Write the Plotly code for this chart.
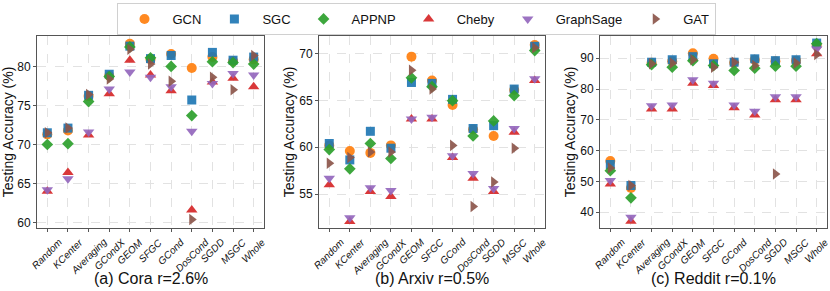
import plotly.graph_objects as go

methods = ["Random", "KCenter", "Averaging", "GCondX", "GEOM", "SFGC", "GCond",
           "DosCond", "SGDD", "MSGC", "Whole"]
models = ["GCN", "SGC", "APPNP", "Cheby", "GraphSage", "GAT"]

# Cora r=2.6%
cora = {
    "GCN":       [71.3, 71.8, 76.2, 78.8, 82.9, 80.9, 81.6, 79.8, 81.2, 80.7, 80.9],
    "SGC":       [71.5, 72.1, 76.3, 79.0, 82.6, 81.0, 81.4, 75.7, 81.8, 80.8, 81.2],
    "APPNP":     [70.0, 70.1, 75.5, 78.7, 82.5, 81.1, 80.0, 73.7, 80.6, 80.5, 80.3],
    "Cheby":     [64.0, 66.4, 71.2, 76.5, 80.8, 78.9, 76.9, 61.6, 78.0, 78.5, 77.4],
    "GraphSage": [64.2, 65.6, 71.6, 77.1, 79.3, 78.6, 77.4, 71.7, 77.8, 79.1, 78.9],
    "GAT":       [71.5, 72.1, 76.4, 78.4, 82.2, 80.3, 78.1, 60.4, 78.6, 77.0, 81.4],
}
# Arxiv r=0.5%
arxiv = {
    "GCN":       [60.2, 59.6, 59.4, 60.2, 69.65, 67.1, 64.5, 61.9, 61.2, 66.1, 70.9],
    "SGC":       [60.4, 58.65, 61.7, 59.9, 66.9, 66.8, 65.1, 62.0, 62.3, 66.2, 70.75],
    "APPNP":     [59.75, 57.7, 60.4, 58.8, 67.4, 66.45, 64.96, 61.2, 62.8, 65.5, 70.3],
    "Cheby":     [56.0, 52.1, 55.3, 54.75, 63.0, 63.0, 58.9, 56.7, 55.3, 61.6, 67.1],
    "GraphSage": [56.7, 52.5, 55.7, 55.4, 63.0, 63.2, 59.1, 57.2, 55.6, 62.0, 67.3],
    "GAT":       [58.3, 58.9, 59.5, 59.5, 68.2, 66.2, 60.2, 53.7, 56.3, 59.9, 70.6],
}
# Reddit r=0.1%
reddit = {
    "GCN":       [56.6, 47.9, 88.5, 89.0, 91.6, 89.8, 88.5, 89.5, 89.0, 89.2, 94.1],
    "SGC":       [55.5, 48.7, 88.7, 89.5, 90.5, 88.2, 88.7, 89.8, 89.2, 89.5, 94.9],
    "APPNP":     [53.5, 44.7, 87.9, 87.1, 89.2, 87.6, 86.0, 86.75, 87.4, 87.4, 94.7],
    "Cheby":     [49.2, 37.1, 73.5, 73.5, 81.9, 81.1, 73.9, 71.6, 76.5, 76.5, 91.4],
    "GraphSage": [50.3, 38.4, 74.6, 74.8, 83.0, 81.9, 74.8, 72.8, 77.5, 77.5, 93.0],
    "GAT":       [54.4, 48.7, 88.2, 88.4, 89.5, 87.1, 88.7, 87.6, 52.4, 88.4, 91.2],
}
datasets = [cora, arxiv, reddit]
titles = ["(a) Cora r=2.6%", "(b) Arxiv r=0.5%", "(c) Reddit r=0.1%"]
yticks = [[60, 65, 70, 75, 80], [55, 60, 65, 70], [40, 50, 60, 70, 80, 90]]
yranges = [[59.3, 83.9], [51.4, 71.85], [34.9, 97.2]]

colors = {"GCN": "#ff7f0e", "SGC": "#1f77b4", "APPNP": "#2ca02c",
          "Cheby": "#d62728", "GraphSage": "#9467bd", "GAT": "#8c564b"}
symbols = {"GCN": "circle", "SGC": "square", "APPNP": "diamond",
           "Cheby": "triangle-up", "GraphSage": "triangle-down", "GAT": "triangle-right"}
sizes = {"GCN": 10, "SGC": 9, "APPNP": 9, "Cheby": 10, "GraphSage": 10, "GAT": 10}

W, H = 830, 291
xdomains = [[37 / W, 264 / W], [319 / W, 545 / W], [600 / W, 827 / W]]
ydom = [1 - 228 / H, 1 - 36 / H]
font = "Liberation Sans, Arial, sans-serif"

fig = go.Figure()
xpos = list(range(len(methods)))
for i, data in enumerate(datasets):
    ax = "" if i == 0 else str(i + 1)
    for m in models:
        fig.add_trace(go.Scatter(
            x=xpos, y=data[m], mode="markers", name=m,
            legendgroup=m, showlegend=(i == 0),
            xaxis="x" + ax, yaxis="y" + ax,
            marker=dict(symbol=symbols[m], color=colors[m], size=sizes[m],
                        opacity=0.92, line=dict(width=0)),
        ))
    axis_common = dict(showline=True, linecolor="#555555", linewidth=1, mirror=True,
                       showgrid=True, gridcolor="#e2e2e2", griddash="dash", gridwidth=0.7,
                       ticks="outside", ticklen=3, tickcolor="#555555", zeroline=False)
    fig.layout["xaxis" + ax] = dict(
        domain=xdomains[i], range=[-0.5, 10.5], tickvals=xpos,
        showticklabels=False, anchor="y" + ax, **axis_common)
    fig.layout["yaxis" + ax] = dict(
        domain=ydom, range=yranges[i], tickvals=yticks[i], anchor="x" + ax,
        tickfont=dict(size=12, color="#111111", family=font),
        title=dict(text="Testing Accuracy (%)", font=dict(size=14, color="#111111", family=font),
                   standoff=1),
        automargin=False, **axis_common)
    for j, lab in enumerate(methods):
        fig.add_annotation(
            x=j, xref="x" + ax, y=1 - 235 / H, yref="paper",
            text="<i>" + lab + "</i>", showarrow=False, textangle=-45,
            xanchor="center", yanchor="top", borderpad=0,
            font=dict(size=10, color="#111111", family=font))
    fig.add_annotation(
        x=(xdomains[i][0] + xdomains[i][1]) / 2, xref="paper",
        y=1 - 278 / H, yref="paper", text=titles[i], showarrow=False,
        xanchor="center", yanchor="middle",
        font=dict(size=16, color="#111111", family=font))

fig.update_layout(
    width=W, height=H, margin=dict(l=0, r=0, t=0, b=0),
    paper_bgcolor="white", plot_bgcolor="white",
    font=dict(family=font, color="#111111"),
    legend=dict(orientation="h", x=416 / W, xanchor="center", y=1 - 3 / H, yanchor="top",
                bordercolor="#d0d0d0", borderwidth=1, itemwidth=46,
                font=dict(size=13, color="#111111", family=font),
                bgcolor="white"),
)
fig.write_html("out.html", config={"displayModeBar": False},
               post_script="document.body.style.margin='0px';")
